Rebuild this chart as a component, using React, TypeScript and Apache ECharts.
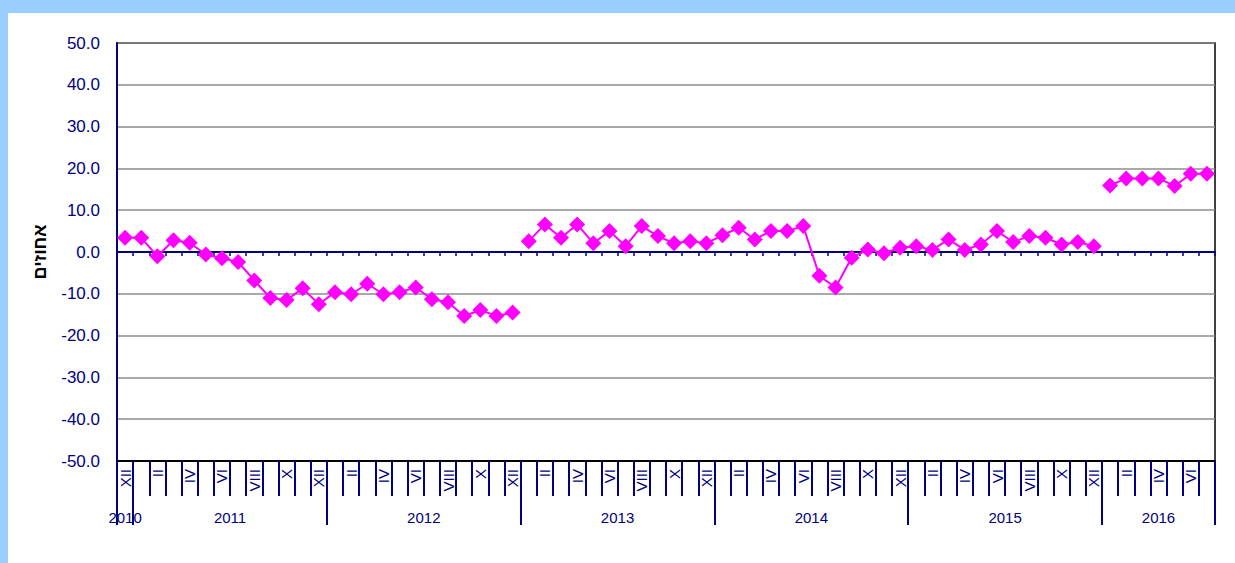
import React, { useEffect, useRef } from "react";
import * as echarts from "echarts";

const romanMonths = ["I", "II", "III", "IV", "V", "VI", "VII", "VIII", "IX", "X", "XI", "XII"];
const labelledMonths = ["II", "IV", "VI", "VIII", "X", "XII"];
const years = ["2010", "2011", "2012", "2013", "2014", "2015", "2016"];

const categories: string[] = [
  "2010-XII",
  ...["2011", "2012", "2013", "2014", "2015"].flatMap((y) => romanMonths.map((m) => `${y}-${m}`)),
  ...romanMonths.slice(0, 7).map((m) => `2016-${m}`),
];

// Dec 2010 – Dec 2012
const valuesDec2010toDec2012 = [
  3.4, 3.4, -1.0, 2.8, 2.2, -0.6, -1.5, -2.4, -6.8, -11.0, -11.5, -8.7, -12.5, -9.6, -10.1, -7.6,
  -10.1, -9.6, -8.5, -11.3, -12.0, -15.3, -13.9, -15.3, -14.5,
];
// Jan 2013 – Dec 2015
const values2013to2015 = [
  2.6, 6.6, 3.4, 6.6, 2.1, 5.0, 1.4, 6.2, 3.8, 2.1, 2.6, 2.1,
  4.0, 5.8, 3.0, 5.0, 5.0, 6.2, -5.7, -8.5, -1.4, 0.6, -0.3, 1.0,
  1.4, 0.5, 3.0, 0.5, 1.8, 5.0, 2.4, 3.8, 3.4, 1.8, 2.4, 1.4,
];
// Jan 2016 – Jul 2016
const values2016 = [15.9, 17.6, 17.6, 17.6, 15.8, 18.7, 18.7];

const NAVY = "#000080";
const FONT = "'Liberation Sans', Arial, sans-serif";

function placeAt(values: number[], startKey: string): (number | null)[] {
  const start = categories.indexOf(startKey);
  return categories.map((_, i) => (i >= start && i < start + values.length ? values[i - start] : null));
}

const yearBounds: number[] = [0];
categories.forEach((c, i) => {
  if (i > 0 && c.split("-")[0] !== categories[i - 1].split("-")[0]) yearBounds.push(i);
});
yearBounds.push(categories.length);
const yearCenters = yearBounds.slice(0, -1).map((b, i) => (b + yearBounds[i + 1]) / 2);

export default function App() {
  const ref = useRef<HTMLDivElement>(null);
  useEffect(() => {
    const chart = echarts.init(ref.current!, null, { renderer: "svg" });
    const lineSeries = (name: string, data: (number | null)[]) => ({
      name,
      type: "line",
      xAxisIndex: 0,
      yAxisIndex: 0,
      data,
      symbol: "diamond",
      symbolSize: 16,
      itemStyle: { color: "#FF00FF" },
      lineStyle: { color: "#FF00FF", width: 2 },
      connectNulls: false,
      z: 5,
    });
    chart.setOption({
      animation: false,
      backgroundColor: "#ffffff",
      graphic: [
        { type: "rect", shape: { x: 0, y: 0, width: 1235, height: 13 }, style: { fill: "#99CCFF" }, silent: true },
        { type: "rect", shape: { x: 0, y: 0, width: 8, height: 563 }, style: { fill: "#99CCFF" }, silent: true },
      ],
      grid: {
        left: 117,
        top: 43,
        right: 20,
        bottom: 102,
        show: true,
        borderColor: "#000000",
        borderWidth: 1.5,
        backgroundColor: "transparent",
        containLabel: false,
        outerBoundsMode: "none",
      },
      xAxis: [
        {
          type: "category",
          data: categories,
          position: "bottom",
          boundaryGap: true,
          axisLine: { show: true, onZero: false, lineStyle: { color: "#000000", width: 2 } },
          axisTick: { show: true, interval: 0, length: 35, lineStyle: { color: NAVY, width: 2 } },
          axisLabel: {
            interval: 0,
            rotate: 90,
            margin: 8,
            color: NAVY,
            fontSize: 15,
            fontFamily: FONT,
            formatter: (v: string) => {
              const m = v.split("-")[1];
              return labelledMonths.includes(m) ? m : "";
            },
          },
          splitLine: { show: false },
        },
        {
          type: "value",
          min: 0,
          max: categories.length,
          position: "bottom",
          axisLine: { show: false, onZero: false },
          axisTick: { show: true, customValues: yearBounds, length: 64, lineStyle: { color: NAVY, width: 2 } },
          axisLabel: {
            customValues: yearCenters,
            margin: 49,
            color: NAVY,
            fontSize: 15,
            fontFamily: FONT,
            formatter: (v: number) => years[yearCenters.indexOf(v)] ?? "",
          },
          splitLine: { show: false },
        },
        {
          type: "category",
          data: categories,
          position: "bottom",
          boundaryGap: true,
          axisLine: { show: true, onZero: true, lineStyle: { color: NAVY, width: 2 } },
          axisTick: { show: true, interval: 0, length: 4, lineStyle: { color: NAVY, width: 1.5 } },
          axisLabel: { show: false },
          splitLine: { show: false },
        },
      ],
      yAxis: {
        type: "value",
        min: -50,
        max: 50,
        interval: 10,
        name: "אחוזים",
        nameLocation: "middle",
        nameRotate: 90,
        nameGap: 68,
        nameTextStyle: { color: "#000000", fontSize: 18, fontWeight: "bold", fontFamily: FONT },
        axisLine: { show: true, onZero: false, lineStyle: { color: NAVY, width: 2 } },
        axisTick: { show: false },
        axisLabel: {
          color: NAVY,
          fontSize: 17,
          fontFamily: FONT,
          margin: 17,
          formatter: (v: number) => v.toFixed(1),
        },
        splitLine: { show: true, lineStyle: { color: "#8c8c8c", width: 1.5 } },
      },
      series: [
        lineSeries("2010-2012", placeAt(valuesDec2010toDec2012, "2010-XII")),
        lineSeries("2013-2015", placeAt(values2013to2015, "2013-I")),
        lineSeries("2016", placeAt(values2016, "2016-I")),
      ],
    });
    return () => chart.dispose();
  }, []);
  return (
    <div
      ref={ref}
      style={{ position: "fixed", left: 0, top: 0, width: 1235, height: 563, background: "#ffffff" }}
    />
  );
}
